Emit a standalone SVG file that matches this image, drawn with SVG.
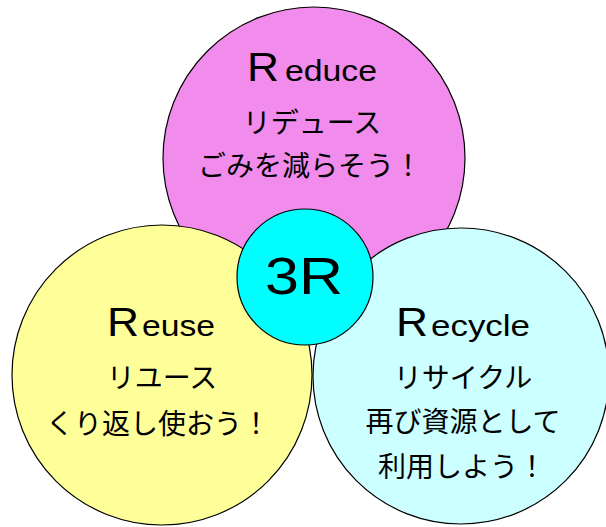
<svg xmlns="http://www.w3.org/2000/svg" width="606" height="527" viewBox="0 0 606 527">
<style>
.c{stroke:#000;stroke-width:1.2}
.big{font-family:"Liberation Sans",Arial,sans-serif;font-size:41px;fill:#000}
.en{font-family:"Liberation Sans",Arial,sans-serif;font-size:29px;fill:#000}
.jp{font-family:"Noto Sans CJK JP","Noto Sans",sans-serif;font-size:28px;fill:#000;text-anchor:middle}
.t3{font-family:"Liberation Sans",Arial,sans-serif;font-size:52px;fill:#000}
</style>
<rect width="606" height="527" fill="#fff"/>
<g id="reduce">
<circle class="c" cx="314" cy="158" r="151" fill="#F28CEC"/>
<text class="big" x="247" y="81" textLength="32" lengthAdjust="spacingAndGlyphs">R</text>
<text class="en" x="285" y="81" textLength="92" lengthAdjust="spacingAndGlyphs">educe</text>
<text class="jp" x="312" y="133">リデュース</text>
<text class="jp" x="310" y="176">ごみを減らそう！</text>
</g>
<g id="reuse">
<circle class="c" cx="162" cy="375" r="150" fill="#FFFF99"/>
<text class="big" x="107" y="336" textLength="32" lengthAdjust="spacingAndGlyphs">R</text>
<text class="en" x="142" y="336" textLength="73" lengthAdjust="spacingAndGlyphs">euse</text>
<text class="jp" x="162" y="388">リユース</text>
<text class="jp" x="158" y="434">くり返し使おう！</text>
</g>
<g id="recycle">
<circle class="c" cx="461" cy="376" r="148" fill="#CCFFFF"/>
<text class="big" x="396" y="336" textLength="32" lengthAdjust="spacingAndGlyphs">R</text>
<text class="en" x="431" y="336" textLength="99" lengthAdjust="spacingAndGlyphs">ecycle</text>
<text class="jp" x="463" y="388">リサイクル</text>
<text class="jp" x="463" y="432">再び資源として</text>
<text class="jp" x="462" y="477">利用しよう！</text>
</g>
<g id="center3r">
<circle class="c" cx="305" cy="277" r="68" fill="#00FFFF"/>
<text class="t3" x="265" y="294" textLength="78" lengthAdjust="spacingAndGlyphs">3R</text>
</g>
<g id="connectors"></g>
</svg>
